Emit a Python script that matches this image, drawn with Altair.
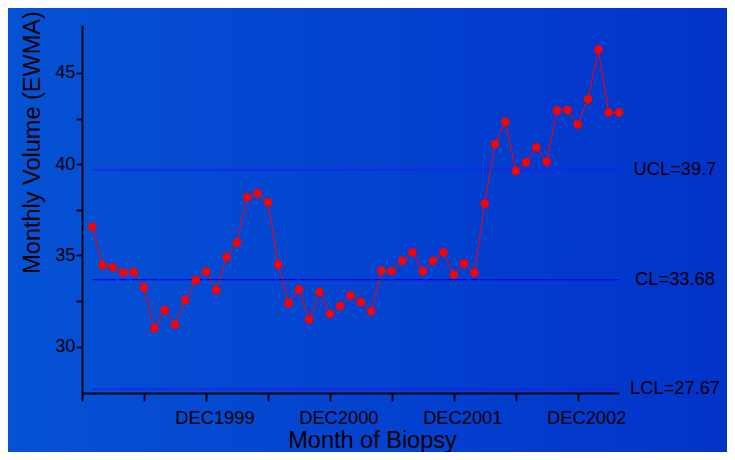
import altair as alt
import pandas as pd

# Month index: 0 = DEC1998, 1 = JAN1999, ..., 52 = APR2003
month_index = list(range(1, 53))
ewma_values = [36.57, 34.46, 34.35, 34.07, 34.09, 33.25, 31.01, 32.01, 31.21, 32.56,
               33.65, 34.13, 33.10, 34.91, 35.71, 38.19, 38.41, 37.92, 34.51, 32.39,
               33.14, 31.50, 33.01, 31.79, 32.24, 32.81, 32.45, 31.95, 34.16, 34.14,
               34.71, 35.17, 34.14, 34.71, 35.17, 33.94, 34.56, 34.05, 37.85, 41.11,
               42.32, 39.63, 40.11, 40.93, 40.13, 42.94, 42.96, 42.17, 43.56, 46.28,
               42.83, 42.83]

limit_names = ["UCL", "CL", "LCL"]
limit_values = [39.7, 33.68, 27.67]
limit_labels = ["UCL=39.7", "CL=33.68", "LCL=27.67"]
limit_styles = ["dot", "solid", "dot"]

tick_months = list(range(0, 52, 3))
label_months = [12, 24, 36, 48]
label_texts = ["DEC1999", "DEC2000", "DEC2001", "DEC2002"]

y_ticks = [30, 32.5, 35, 37.5, 40, 42.5, 45]

FONT = "Liberation Sans"
W, H = 537, 368
PL, PT, PR, PB = 74, 17, 108, 59

df = pd.DataFrame({"m": month_index, "v": ewma_values})
lim = pd.DataFrame({"name": limit_names, "v": limit_values, "label": limit_labels,
                    "style": limit_styles, "m0": 1, "m1": 52})

label_expr = " : ".join(
    [f"datum.value == {m} ? '{t}'" for m, t in zip(label_months, label_texts)]) + " : ''"

x_scale = alt.Scale(domain=[0, 52], nice=False, zero=False)
y_scale = alt.Scale(domain=[27.47, 47.62], nice=False, zero=False)

x_axis = alt.Axis(values=tick_months, labelExpr=label_expr, title="Month of Biopsy",
                  grid=False, tickSize=8, labelPadding=22, labelBaseline="alphabetic",
                  labelFontSize=18.3, labelOffset=8.5,
                  titleFontSize=23.5, titleFontWeight="normal",
                  titleX=290, titleY=54, titleBaseline="alphabetic", titleAlign="center",
                  labelOverlap=False, labelFlush=False, zindex=2)
y_axis = alt.Axis(values=y_ticks, labelExpr="datum.value % 5 == 0 ? datum.label : ''",
                  title="Monthly Volume (EWMA)", grid=False, tickSize=6, labelPadding=1,
                  labelFontSize=18.3, titleFontSize=23.5, titleFontWeight="normal",
                  titleX=-43, titleY=117, titleBaseline="alphabetic", titleAlign="center",
                  titleAngle=270, labelOverlap=False, zindex=2)

bg = alt.Chart(pd.DataFrame({"a": [0]})).mark_rect(
    color=alt.LinearGradient(gradient="linear", x1=0, x2=1, y1=0, y2=0,
                             stops=[alt.GradientStop(color="#0552D4", offset=0),
                                    alt.GradientStop(color="#0233CB", offset=1)])
).encode(x=alt.value(-PL), x2=alt.value(W + PR), y=alt.value(-PT), y2=alt.value(H + PB))

rules = alt.Chart(lim).mark_rule().encode(
    x=alt.X("m0:Q", scale=x_scale, axis=x_axis),
    x2="m1:Q",
    y=alt.Y("v:Q", scale=y_scale, axis=y_axis),
    color=alt.Color("style:N", scale=alt.Scale(domain=["dot", "solid"],
                                               range=["#1A1AFF", "#0000F5"]), legend=None),
    strokeWidth=alt.StrokeWidth("style:N", scale=alt.Scale(domain=["dot", "solid"],
                                                           range=[2, 1.3]), legend=None),
    strokeDash=alt.StrokeDash("style:N", scale=alt.Scale(domain=["dot", "solid"],
                                                         range=[[1.5, 1], [1, 0]]),
                              legend=None),
)

labels = alt.Chart(lim).mark_text(align="center", baseline="middle", fontSize=18.3,
                                  font=FONT, color="black").encode(
    x=alt.value(593), y=alt.Y("v:Q", scale=y_scale), text="label:N")

line = alt.Chart(df).mark_line(color="#FF0000", strokeWidth=1).encode(
    x=alt.X("m:Q", scale=x_scale), y=alt.Y("v:Q", scale=y_scale))
pts = alt.Chart(df).mark_circle(color="#FF0000", opacity=1, size=72).encode(
    x=alt.X("m:Q", scale=x_scale), y=alt.Y("v:Q", scale=y_scale))

chart = alt.layer(bg, rules, labels, line, pts).properties(
    width=W, height=H,
    autosize=alt.AutoSizeParams(type="none"),
    padding={"left": PL, "top": PT, "right": PR, "bottom": PB},
    background="#0444CF",
).configure_view(stroke=None).configure_axis(
    domainColor="black", domainWidth=1.8, tickColor="black", tickWidth=1.8,
    labelColor="black", titleColor="black", labelFont=FONT, titleFont=FONT,
)

chart.save("out.html", embed_options={"renderer": "svg", "actions": False})
